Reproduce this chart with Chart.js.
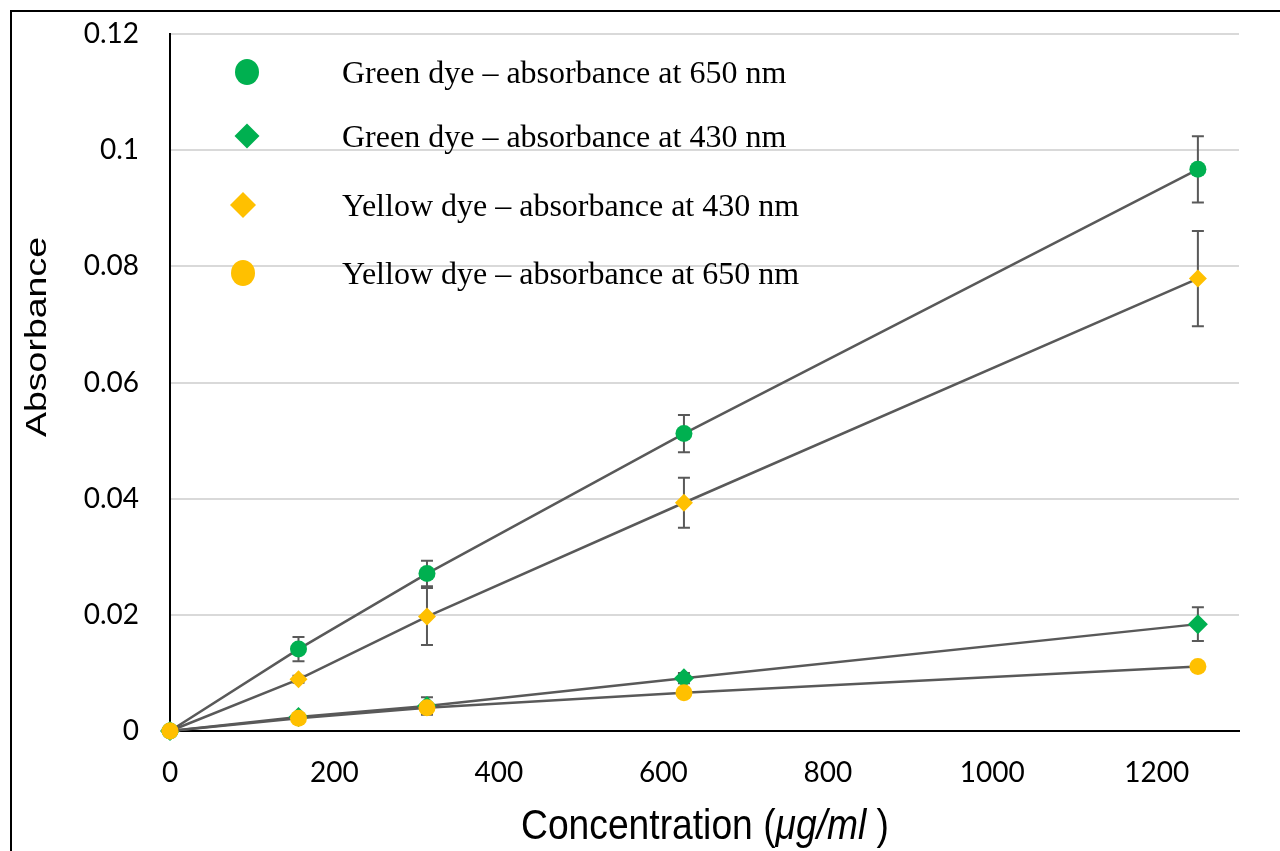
<!DOCTYPE html>
<html>
<head>
<meta charset="utf-8">
<title>Absorbance vs concentration</title>
<script src="https://cdn.jsdelivr.net/npm/chart.js@4.4.1/dist/chart.umd.min.js"></script>
<style>
  body { margin: 0; background: #fff; }
  #wrap { width: 1280px; height: 851px; }
</style>
</head>
<body>
<div id="wrap"><canvas id="myChart" width="1280" height="851"></canvas></div>
<script>
// data
const concentrations = [0, 156.25, 312.5, 625, 1250];

const green650 = [0, 0.0141, 0.0271, 0.0512, 0.0967];
const green650Err = [0, 0.0021, 0.0022, 0.0032, 0.0057];

const green430 = [0, 0.0024, 0.0043, 0.0091, 0.0184];
const green430Err = [0, 0.0003, 0.0015, 0.0009, 0.0029];

const yellow430 = [0, 0.0089, 0.0197, 0.0393, 0.0779];
const yellow430Err = [0, 0.0006, 0.0049, 0.0043, 0.0082];

const yellow650 = [0, 0.0022, 0.0040, 0.0066, 0.0111];
const yellow650Err = [0, 0.0002, 0.0008, 0.0004, 0.0005];

const seriesLabels = [
  "Green dye \u2013 absorbance at 650 nm",
  "Green dye \u2013 absorbance at 430 nm",
  "Yellow dye \u2013 absorbance at 430 nm",
  "Yellow dye \u2013 absorbance at 650 nm"
];

const xTicks = [0, 200, 400, 600, 800, 1000, 1200];
const xTickLabels = ["0", "200", "400", "600", "800", "1000", "1200"];
const yTicks = [0, 0.02, 0.04, 0.06, 0.08, 0.1, 0.12];
const yTickLabels = ["0", "0.02", "0.04", "0.06", "0.08", "0.1", "0.12"];

const GREEN = "#00b050";
const YELLOW = "#ffc000";
const LINE = "#595959";

function points(ys) {
  return concentrations.map(function (x, i) {
    return { x: x, y: ys[i] };
  });
}

function series(label, ys, errs, color, style, radius, order) {
  return {
    label: label,
    data: points(ys),
    errors: errs,
    showLine: true,
    clip: false,
    borderColor: LINE,
    borderWidth: 2.5,
    tension: 0,
    pointStyle: style,
    pointRadius: radius,
    pointBackgroundColor: color,
    pointBorderColor: color,
    pointBorderWidth: 0,
    order: order
  };
}

// white page + outer frame
const framePlugin = {
  id: "frame",
  beforeDraw: function (chart) {
    const ctx = chart.ctx;
    ctx.save();
    ctx.fillStyle = "#fff";
    ctx.fillRect(0, 0, chart.width, chart.height);
    ctx.strokeStyle = "#000";
    ctx.lineWidth = 2;
    ctx.strokeRect(11, 11, 1300, 900);
    ctx.restore();
  }
};

// vertical error bars with caps, under the markers
const errorBarPlugin = {
  id: "errorBars",
  beforeDatasetsDraw: function (chart) {
    const ctx = chart.ctx;
    const xs = chart.scales.x;
    const ys = chart.scales.y;
    ctx.save();
    ctx.strokeStyle = LINE;
    ctx.lineWidth = 2;
    chart.data.datasets.forEach(function (ds) {
      ds.data.forEach(function (p, i) {
        const e = ds.errors[i];
        if (!e) return;
        const px = xs.getPixelForValue(p.x);
        const top = ys.getPixelForValue(p.y + e);
        const bot = ys.getPixelForValue(p.y - e);
        ctx.beginPath();
        ctx.moveTo(px, top);
        ctx.lineTo(px, bot);
        ctx.moveTo(px - 6, top);
        ctx.lineTo(px + 6, top);
        ctx.moveTo(px - 6, bot);
        ctx.lineTo(px + 6, bot);
        ctx.stroke();
      });
    });
    ctx.restore();
  }
};

// axis titles (the figure is slightly stretched vertically)
const titlePlugin = {
  id: "axisTitles",
  afterDraw: function (chart) {
    const ctx = chart.ctx;
    ctx.save();
    ctx.fillStyle = "#000";

    // y title
    ctx.font = "29px 'Liberation Sans', Arial, sans-serif";
    const yt = "Absorbance";
    const yw = ctx.measureText(yt).width;
    ctx.translate(46, 337);
    ctx.rotate(-Math.PI / 2);
    ctx.scale(200 / yw, 1);
    ctx.textAlign = "center";
    ctx.textBaseline = "alphabetic";
    ctx.fillText(yt, 0, 0);
    ctx.restore();

    // x title with italic unit
    ctx.save();
    ctx.fillStyle = "#000";
    const parts = [
      { t: "Concentration (", f: "36px 'Liberation Sans', Arial, sans-serif" },
      { t: "\u03bcg/ml", f: "italic 36px 'Liberation Sans', Arial, sans-serif" },
      { t: " )", f: "36px 'Liberation Sans', Arial, sans-serif" }
    ];
    let total = 0;
    parts.forEach(function (p) {
      ctx.font = p.f;
      p.w = ctx.measureText(p.t).width;
      total += p.w;
    });
    ctx.translate(521, 839);
    ctx.scale(368 / total, 1.2);
    ctx.textAlign = "left";
    ctx.textBaseline = "alphabetic";
    let cx = 0;
    parts.forEach(function (p) {
      ctx.font = p.f;
      ctx.fillText(p.t, cx, 0);
      cx += p.w;
    });
    ctx.restore();
  }
};

// legend inside the plot, top left
const legendPlugin = {
  id: "innerLegend",
  afterDraw: function (chart) {
    const ctx = chart.ctx;
    const rows = [
      { color: GREEN, shape: "circle", r: 12, mx: 247, my: 72, ty: 75 },
      { color: GREEN, shape: "diamond", r: 12.5, mx: 247, my: 136, ty: 139 },
      { color: YELLOW, shape: "diamond", r: 13, mx: 243, my: 205, ty: 208 },
      { color: YELLOW, shape: "circle", r: 12, mx: 243, my: 273, ty: 276 }
    ];
    ctx.save();
    rows.forEach(function (row, i) {
      ctx.fillStyle = row.color;
      ctx.beginPath();
      if (row.shape === "circle") {
        ctx.ellipse(row.mx, row.my, row.r, row.r * 1.08, 0, 0, Math.PI * 2);
      } else {
        ctx.moveTo(row.mx, row.my - row.r);
        ctx.lineTo(row.mx + row.r, row.my);
        ctx.lineTo(row.mx, row.my + row.r);
        ctx.lineTo(row.mx - row.r, row.my);
        ctx.closePath();
      }
      ctx.fill();
      ctx.fillStyle = "#000";
      ctx.font = "32px 'Liberation Serif', 'Times New Roman', serif";
      ctx.textAlign = "left";
      ctx.textBaseline = "middle";
      ctx.fillText(seriesLabels[i], 342, row.ty);
    });
    ctx.restore();
  }
};

const tickFont = { family: "Lato, 'Open Sans', sans-serif", size: 28 };

const ctx = document.getElementById("myChart").getContext("2d");
const chart = new Chart(ctx, {
  type: "scatter",
  data: {
    datasets: [
      series(seriesLabels[0], green650, green650Err, GREEN, "circle", 8.5, 4),
      series(seriesLabels[1], green430, green430Err, GREEN, "rectRot", 10, 3),
      series(seriesLabels[2], yellow430, yellow430Err, YELLOW, "rectRot", 9, 2),
      series(seriesLabels[3], yellow650, yellow650Err, YELLOW, "circle", 8.5, 1)
    ]
  },
  options: {
    responsive: false,
    animation: false,
    layout: { padding: { left: 0, top: 34, right: 41, bottom: 0 } },
    plugins: {
      legend: { display: false },
      tooltip: { enabled: false }
    },
    scales: {
      x: {
        type: "linear",
        min: 0,
        max: 1300,
        afterBuildTicks: function (s) {
          s.ticks = xTicks.map(function (v) { return { value: v }; });
        },
        afterFit: function (s) {
          s.height = 120;
          s.paddingLeft = 0;
          s.paddingRight = 0;
        },
        grid: { display: false, drawTicks: false },
        border: { display: true, color: "#000", width: 2 },
        ticks: {
          color: "#000",
          font: tickFont,
          padding: 25,
          maxRotation: 0,
          callback: function (v, i) { return xTickLabels[i]; }
        }
      },
      y: {
        type: "linear",
        min: 0,
        max: 0.12,
        afterBuildTicks: function (s) {
          s.ticks = yTicks.map(function (v) { return { value: v }; });
        },
        afterFit: function (s) {
          s.width = 170;
          s.paddingTop = 0;
          s.paddingBottom = 0;
        },
        grid: {
          drawTicks: false,
          lineWidth: 2,
          color: function (c) {
            return c.tick && c.tick.value === 0 ? "rgba(0,0,0,0)" : "#d9d9d9";
          }
        },
        border: { display: true, color: "#000", width: 2 },
        ticks: {
          color: "#000",
          font: tickFont,
          padding: 31,
          callback: function (v, i) { return yTickLabels[i]; }
        }
      }
    }
  },
  plugins: [framePlugin, errorBarPlugin, titlePlugin, legendPlugin]
});
</script>
</body>
</html>
